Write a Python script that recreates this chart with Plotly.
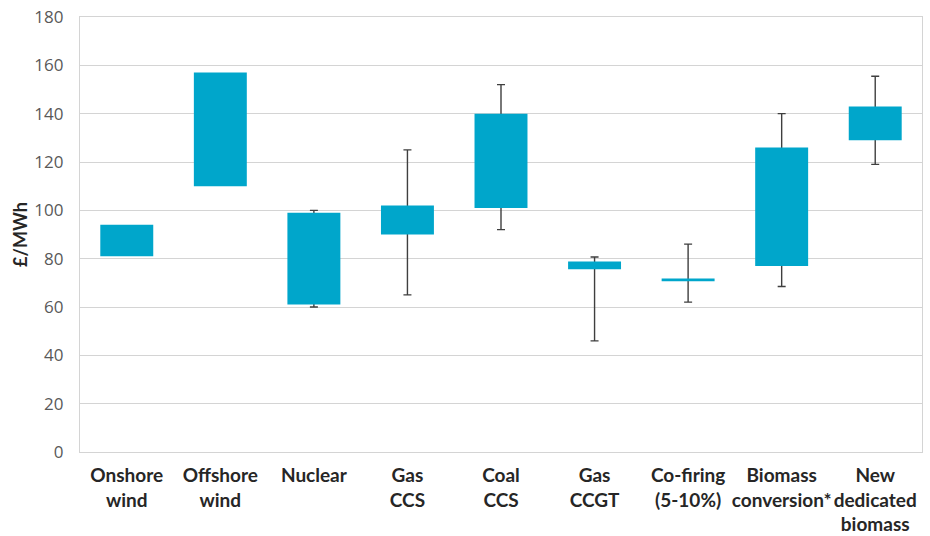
import plotly.graph_objects as go

# Levelised cost ranges by technology (£/MWh)
categories = ["Onshore<br>wind", "Offshore<br>wind", "Nuclear", "Gas<br>CCS", "Coal<br>CCS",
              "Gas<br>CCGT", "Co-firing<br>(5-10%)", "Biomass<br>conversion*", "New<br>dedicated<br>biomass"]
box_low = [81, 110, 61, 90, 101, 75.6, 70.7, 77, 129]
box_high = [94, 157, 99, 102, 140, 78.8, 71.8, 126, 143]
whisker_low = [None, None, 60, 65, 92, 46, 62, 68.5, 119]
whisker_high = [None, None, 100, 125, 152, 80.7, 86, 140, 155.5]
y_ticks = [0, 20, 40, 60, 80, 100, 120, 140, 160, 180]

BAR_COLOR = "#00a6cb"
WHISKER_COLOR = "#3f3f3f"
GRID_COLOR = "#d4d4d4"
LABEL_FONT = "Lato, Open Sans, sans-serif"

fig = go.Figure()

# Whiskers: drawn on the base axes so the boxes (on the overlaid axis) sit on top
wx, wy, wup = [], [], []
for c, lo, hi in zip(categories, whisker_low, whisker_high):
    if lo is None:
        continue
    wx.append(c)
    wy.append(lo)
    wup.append(hi - lo)

fig.add_trace(go.Scatter(
    x=wx, y=wy, mode="markers",
    marker=dict(size=1, opacity=0),
    error_y=dict(type="data", symmetric=False, array=wup, arrayminus=[0] * len(wup),
                 color=WHISKER_COLOR, thickness=1.4, width=4),
    hoverinfo="skip", showlegend=False,
    xaxis="x", yaxis="y",
))

# Floating boxes from low to high estimate
fig.add_trace(go.Bar(
    x=categories,
    y=[h - l for l, h in zip(box_low, box_high)],
    base=box_low,
    marker=dict(color=BAR_COLOR, line=dict(width=0)),
    showlegend=False,
    xaxis="x", yaxis="y2",
))

fig.update_layout(
    width=930, height=536,
    margin=dict(l=80, r=8, t=17, b=84),
    paper_bgcolor="white", plot_bgcolor="white",
    bargap=0.434,
    xaxis=dict(
        type="category",
        categoryorder="array", categoryarray=categories,
        showgrid=False,
        showline=True, linecolor=GRID_COLOR, linewidth=1.3, mirror=True,
        ticks="", tickangle=0, automargin=False, ticklabelstandoff=6,
        tickfont=dict(family=LABEL_FONT, size=19, color="#262626", weight="bold"),
    ),
    yaxis=dict(
        range=[0, 180],
        tickvals=y_ticks,
        showgrid=True, gridcolor=GRID_COLOR, gridwidth=1.3,
        showline=True, linecolor=GRID_COLOR, linewidth=1.3, mirror=True,
        zeroline=False, automargin=False,
        ticks="", ticklabelstandoff=12,
        tickfont=dict(family="Open Sans, sans-serif", size=17, color="#595959"),
        title=dict(text="£/MWh", standoff=1,
                   font=dict(family=LABEL_FONT, size=18, color="#262626", weight="bold")),
        fixedrange=True,
    ),
    yaxis2=dict(
        range=[0, 180],
        overlaying="y",
        visible=False,
        showgrid=False,
        fixedrange=True,
    ),
)

fig.write_html("out.html")
